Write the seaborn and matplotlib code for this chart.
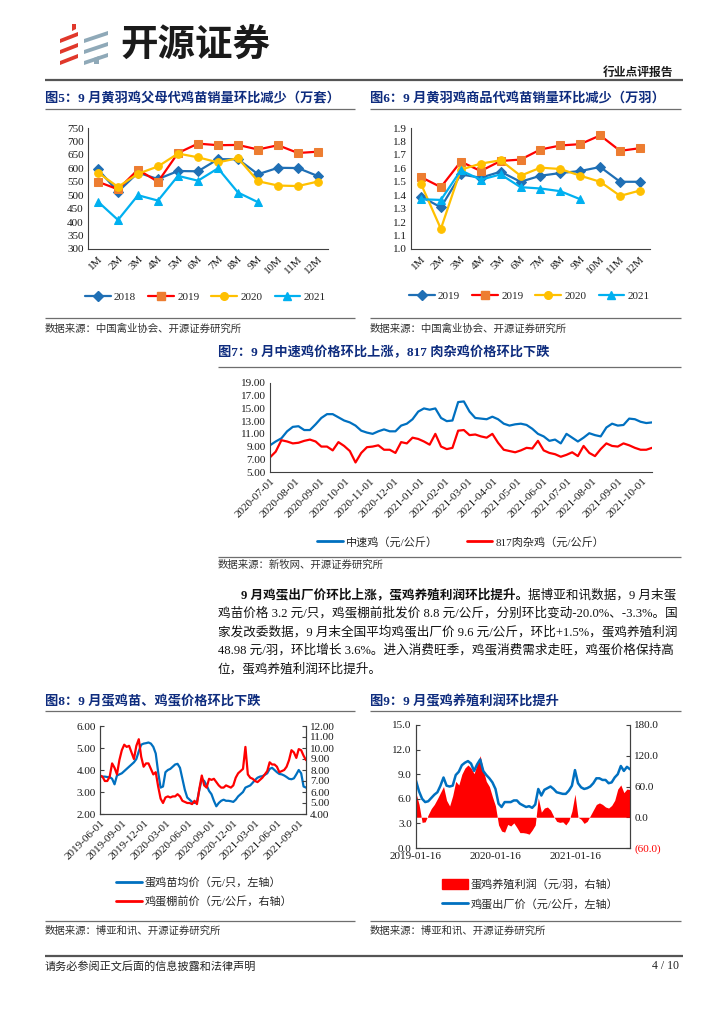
import numpy as np
import pandas as pd
import matplotlib
matplotlib.use("Agg")
import matplotlib.pyplot as plt
import matplotlib.dates as mdates
from matplotlib.lines import Line2D
from matplotlib.patches import Polygon, Patch
import seaborn as sns

# ---------------- data ----------------
months = ["1M", "2M", "3M", "4M", "5M", "6M", "7M", "8M", "9M", "10M", "11M", "12M"]

# 图5 父母代鸡苗销量（万套）
parent_2018 = [596, 513, 584, 560, 590, 589, 634, 634, 578, 602, 601, 571]
parent_2019 = [550, 522, 595, 550, 657, 692, 686, 687, 670, 686, 657, 662]
parent_2020 = [584, 531, 580, 607, 655, 641, 622, 638, 552, 536, 534, 551]
parent_2021 = [476, 408, 500, 480, 572, 554, 600, 510, 474]

# 图6 商品代鸡苗销量（万羽）
comm_a = [1.39, 1.31, 1.555, 1.53, 1.575, 1.50, 1.545, 1.565, 1.58, 1.61, 1.50, 1.50]
comm_2019 = [1.535, 1.46, 1.65, 1.58, 1.655, 1.665, 1.74, 1.77, 1.78, 1.845, 1.73, 1.75]
comm_2020 = [1.485, 1.15, 1.59, 1.635, 1.66, 1.545, 1.605, 1.595, 1.545, 1.50, 1.395, 1.435]
comm_2021 = [1.37, 1.365, 1.585, 1.515, 1.555, 1.46, 1.45, 1.43, 1.37]

# 图7 中速鸡 / 817肉杂鸡（元/公斤），周度
dates7 = pd.date_range("2020-07-01", periods=68, freq="7D")
zhongsu = [9.2, 9.8, 10.3, 11.4, 12.1, 12.2, 11.6, 11.6, 12.5, 13.5,
           14.1, 14.1, 13.6, 13.1, 12.8, 12.3, 11.5, 11.2, 11.0, 11.4,
           11.7, 11.4, 11.4, 12.3, 12.6, 13.3, 14.5, 15.0, 14.8, 15.0,
           13.5, 13.0, 13.1, 16.0, 16.1, 14.5, 13.5, 13.4, 13.3, 13.7,
           13.3, 12.6, 12.3, 12.5, 12.6, 12.4, 11.8, 11.0, 10.6, 9.9,
           10.1, 9.5, 11.0, 10.4, 9.8, 10.4, 11.1, 10.8, 10.6, 12.0,
           12.6, 12.3, 12.4, 13.4, 13.3, 12.9, 12.7, 12.8]
hybrid817 = [7.3, 8.2, 10.0, 9.8, 9.5, 9.6, 9.9, 10.1, 9.8, 9.0,
             9.0, 8.4, 9.7, 9.1, 8.3, 6.5, 8.0, 8.9, 9.0, 9.2,
             8.5, 8.5, 8.0, 9.7, 9.5, 10.4, 10.2, 9.8, 9.3, 11.0,
             9.0, 8.6, 8.8, 11.5, 11.6, 10.8, 10.9, 10.6, 10.4, 11.0,
             9.6, 8.5, 8.3, 8.1, 8.4, 8.8, 8.7, 9.9, 8.4, 8.0,
             7.8, 7.4, 7.7, 8.1, 7.5, 9.1, 8.0, 7.5, 8.6, 9.5,
             9.1, 9.0, 9.5, 9.2, 8.8, 8.5, 8.5, 8.8]

# 图8 蛋鸡苗均价（元/只，左轴）/ 鸡蛋棚前价（元/公斤，右轴）
dates8 = pd.date_range("2019-06-01", periods=86, freq="10D")
chick_price = [3.70, 3.70, 3.70, 3.68, 3.68, 3.60, 3.35, 3.75, 3.80, 3.85,
               3.95, 4.05, 4.15, 4.25, 4.35, 4.50, 4.85, 5.15, 5.20, 5.22,
               5.25, 5.20, 5.05, 4.75, 3.90, 3.20, 3.25, 3.90, 4.00, 4.05,
               4.15, 4.25, 4.28, 4.10, 3.60, 3.10, 2.75, 2.65, 2.55, 2.50,
               2.55, 3.10, 3.60, 3.50, 3.30, 3.05, 2.90, 2.60, 2.35, 2.50,
               2.60, 2.65, 2.60, 2.60, 2.58, 2.55, 2.65, 2.80, 2.90, 3.00,
               3.20, 3.25, 3.30, 3.42, 3.55, 3.65, 3.70, 3.72, 3.78, 3.85,
               4.05, 4.10, 4.00, 3.90, 3.82, 3.80, 3.75, 3.68, 3.60, 3.58,
               3.62, 3.80, 4.00, 3.85, 3.25, 3.20]
egg_farm_price = [7.5, 7.4, 7.0, 7.0, 7.4, 8.6, 8.2, 7.6, 8.9, 9.8,
                  10.3, 10.1, 10.2, 9.6, 9.0, 10.2, 10.8, 9.2, 8.3, 8.6,
                  8.6, 8.1, 7.6, 7.8, 6.5, 5.4, 5.0, 5.5, 5.6, 5.5,
                  5.6, 5.6, 5.8, 5.6, 5.2, 5.1, 5.0, 5.0, 4.9, 5.2,
                  4.9, 6.3, 7.5, 6.6, 6.4, 7.2, 7.1, 7.2, 6.9, 6.6,
                  6.4, 6.4, 6.6, 6.5, 6.4, 6.6, 7.3, 7.7, 7.9, 8.1,
                  10.1, 7.6, 7.3, 7.2, 7.0, 6.9, 7.1, 7.3, 7.6, 7.9,
                  8.7, 8.5, 8.5, 8.3, 7.8, 7.9, 8.0, 8.3, 8.9, 9.8,
                  9.6, 9.1, 9.9, 9.8, 9.3, 8.9]

# 图9 鸡蛋出厂价（元/公斤，左轴）/ 蛋鸡养殖利润（元/羽，右轴）
dates9 = pd.date_range("2019-01-16", periods=71, freq="14D")
egg_factory = [8.2, 6.9, 6.0, 5.6, 5.7, 6.1, 6.5, 6.8, 7.6, 8.6,
               7.6, 7.5, 7.6, 8.9, 9.3, 10.1, 10.4, 10.6, 10.3, 9.4,
               10.2, 10.8, 9.4, 8.9, 8.5, 8.0, 7.2, 5.4, 5.0, 5.6,
               5.6, 5.6, 5.8, 5.8, 5.4, 5.2, 5.0, 5.1, 4.9, 5.3,
               7.2, 6.4, 7.1, 7.3, 7.5, 7.2, 6.8, 6.7, 6.6, 6.6,
               7.0, 7.6, 9.5, 7.9, 7.4, 7.2, 7.3, 7.5, 7.9, 8.5,
               8.5, 8.3, 8.3, 7.9, 8.0, 8.6, 9.0, 10.0, 9.4, 9.9, 9.6]
layer_profit = [47, 25, -10, -9, 5, 17, 25, 36, 48, 60,
                33, 22, 42, 70, 63, 84, 96, 102, 96, 85,
                104, 120, 92, 70, 60, 40, 22, -15, -27, -29,
                -14, -17, -11, -20, -30, -30, -31, -33, -25, -15,
                38, 10, 18, 20, 14, 2, -8, -10, -9, -15,
                -7, 12, 45, 0, -4, -12, -8, 3, 14, 25,
                28, 25, 20, 18, 23, 33, 55, 63, 48, 55, 54]

# ---------------- style ----------------
W, H = 724, 1024
NAVY = "#0E2C7E"
BLUE = "#0070C0"
DARK_BLUE = "#1F6FB5"
RED = "#FF0000"
ORANGE = "#ED7D31"
YELLOW = "#FFC000"
LIGHT_BLUE = "#00B0F0"
SPINE = "#404040"

sns.set_style("white")
plt.rcParams["font.family"] = ["Liberation Serif", "Noto Sans CJK SC"]
plt.rcParams["xtick.labelsize"] = 8
plt.rcParams["ytick.labelsize"] = 8
plt.rcParams["xtick.color"] = SPINE
plt.rcParams["ytick.color"] = SPINE
plt.rcParams["xtick.labelcolor"] = "#1a1a1a"
plt.rcParams["ytick.labelcolor"] = "#1a1a1a"


def rect(l, t, r, b):
    return [l / W, 1 - b / H, (r - l) / W, (b - t) / H]


fig = plt.figure(figsize=(W / 100, H / 100), dpi=100)

# page layer in pixel coordinates
page = fig.add_axes([0, 0, 1, 1])
page.set_xlim(0, W)
page.set_ylim(H, 0)
page.axis("off")


def rule(x0, x1, y, lw=0.9, color="#6e6e6e"):
    page.plot([x0, x1], [y, y], color=color, lw=lw, solid_capstyle="butt")


def title(x, y, s):
    page.text(x, y, s, fontsize=9.5, fontweight="bold", color=NAVY, va="center")


def source(x, y, s):
    page.text(x, y, s, fontsize=7.5, color="#333333", va="center")


# header / logo
for k, yc in enumerate([35, 46, 57]):
    page.add_patch(Polygon([(60, yc + 4), (78, yc - 3), (78, yc + 1), (60, yc + 8)],
                           closed=True, color="#E0382B", lw=0))
    page.add_patch(Polygon([(84, yc + 4), (108, yc - 4), (108, yc), (84, yc + 8)],
                           closed=True, color="#8FA9B8", lw=0))
page.add_patch(Polygon([(72, 24), (76, 24), (76, 29), (72, 31)], closed=True, color="#E0382B", lw=0))
page.add_patch(Polygon([(94, 58), (99, 56), (99, 64), (94, 64)], closed=True, color="#8FA9B8", lw=0))
page.text(120, 44, "开源证券", fontsize=27, fontweight="bold", color="#1a1a1a",
          va="center", ha="left", family="Noto Sans CJK SC")
page.text(673, 73, "行业点评报告", fontsize=8.5, fontweight="bold", color="#1a1a1a",
          va="center", ha="right")
rule(45, 683, 80, lw=1.6, color="#555555")


def style_spines(ax, sides):
    for s in ["left", "right", "top", "bottom"]:
        ax.spines[s].set_visible(s in sides)
        ax.spines[s].set_color(SPINE)
        ax.spines[s].set_linewidth(0.8)


def month_chart(ax, series, ylim, yticks, fmt):
    for vals, lc, mk, mc in series:
        sns.lineplot(x=np.arange(len(vals)), y=vals, ax=ax, color=lc, lw=1.6,
                     marker=mk, markersize=5.5, markerfacecolor=mc,
                     markeredgecolor=mc)
    ax.set_xlim(-0.5, 11.5)
    ax.set_ylim(*ylim)
    ax.set_yticks(yticks)
    ax.set_yticklabels([fmt.format(v) for v in yticks])
    ax.set_xticks(np.arange(12))
    ax.set_xticklabels(months, rotation=45, ha="right", rotation_mode="anchor")
    ax.set_xticks(np.arange(-0.5, 12, 1), minor=True)
    ax.tick_params(axis="x", which="major", length=0, pad=4)
    ax.tick_params(axis="x", which="minor", length=3, direction="in")
    ax.tick_params(axis="y", length=3, direction="in", pad=3)
    ax.set_xlabel("")
    ax.set_ylabel("")
    style_spines(ax, ["left", "bottom"])


def handles_for(series):
    return [Line2D([], [], color=lc, lw=1.6, marker=mk, markersize=5.5,
                   markerfacecolor=mc, markeredgecolor=mc) for _, lc, mk, mc in series]


# ---------- 图5 ----------
title(45, 98, "图5：9 月黄羽鸡父母代鸡苗销量环比减少（万套）")
rule(45, 355, 109)
ax5 = fig.add_axes(rect(88, 128, 328, 249))
s5 = [(parent_2018, DARK_BLUE, "D", DARK_BLUE),
      (parent_2019, RED, "s", ORANGE),
      (parent_2020, YELLOW, "o", YELLOW),
      (parent_2021, LIGHT_BLUE, "^", LIGHT_BLUE)]
month_chart(ax5, s5, (300, 750), np.arange(300, 751, 50), "{:.0f}")
fig.legend(handles_for(s5), ["2018", "2019", "2020", "2021"], loc="center left",
           bbox_to_anchor=(85 / W, 1 - 297 / H), ncol=4, frameon=False, fontsize=8,
           handlelength=2.3, handletextpad=0.3, columnspacing=1.1, borderpad=0,
           borderaxespad=0, numpoints=1)
rule(45, 355, 318)
source(45, 329, "数据来源：中国禽业协会、开源证券研究所")

# ---------- 图6 ----------
title(370, 98, "图6：9 月黄羽鸡商品代鸡苗销量环比减少（万羽）")
rule(370, 681, 109)
ax6 = fig.add_axes(rect(411, 128, 650, 249))
s6 = [(comm_a, DARK_BLUE, "D", DARK_BLUE),
      (comm_2019, RED, "s", ORANGE),
      (comm_2020, YELLOW, "o", YELLOW),
      (comm_2021, LIGHT_BLUE, "^", LIGHT_BLUE)]
month_chart(ax6, s6, (1.0, 1.9), np.round(np.arange(1.0, 1.91, 0.1), 1), "{:.1f}")
fig.legend(handles_for(s6), ["2019", "2019", "2020", "2021"], loc="center left",
           bbox_to_anchor=(409 / W, 1 - 296 / H), ncol=4, frameon=False, fontsize=8,
           handlelength=2.3, handletextpad=0.3, columnspacing=1.1, borderpad=0,
           borderaxespad=0, numpoints=1)
rule(370, 681, 318)
source(370, 329, "数据来源：中国禽业协会、开源证券研究所")

# ---------- 图7 ----------
title(218, 353, "图7：9 月中速鸡价格环比上涨，817 肉杂鸡价格环比下跌")
rule(218, 681, 367)
ax7 = fig.add_axes(rect(270, 383, 652, 472))
sns.lineplot(x=dates7, y=zhongsu, ax=ax7, color=BLUE, lw=1.6)
sns.lineplot(x=dates7, y=hybrid817, ax=ax7, color=RED, lw=1.6)
ax7.set_ylim(5, 19)
ax7.set_yticks(np.arange(5, 19.1, 2))
ax7.yaxis.set_major_formatter(matplotlib.ticker.FormatStrFormatter("%.2f"))
ax7.set_xlim(dates7[0], dates7[-1])
ax7.xaxis.set_major_locator(mdates.MonthLocator())
ax7.xaxis.set_major_formatter(mdates.DateFormatter("%Y-%m-%d"))
plt.setp(ax7.get_xticklabels(), rotation=45, ha="right", rotation_mode="anchor")
ax7.tick_params(axis="both", length=3, direction="in", pad=3)
ax7.set_xlabel("")
ax7.set_ylabel("")
style_spines(ax7, ["left", "bottom"])
fig.legend([Line2D([], [], color=BLUE, lw=2), Line2D([], [], color=RED, lw=2)],
           ["中速鸡（元/公斤）", "817肉杂鸡（元/公斤）"], loc="center left",
           bbox_to_anchor=(317 / W, 1 - 542 / H), ncol=2, frameon=False, fontsize=8,
           handlelength=2.3, handletextpad=0.3, columnspacing=2.6, borderpad=0,
           borderaxespad=0)
rule(218, 681, 557)
source(218, 565, "数据来源：新牧网、开源证券研究所")

# ---------- 正文 ----------
FS_TXT = 9.05
para_lines = [
    "鸡苗价格 3.2 元/只，鸡蛋棚前批发价 8.8 元/公斤，分别环比变动-20.0%、-3.3%。国",
    "家发改委数据，9 月末全国平均鸡蛋出厂价 9.6 元/公斤，环比+1.5%，蛋鸡养殖利润",
    "48.98 元/羽，环比增长 3.6%。进入消费旺季，鸡蛋消费需求走旺，鸡蛋价格保持高",
    "位，蛋鸡养殖利润环比提升。",
]
t_bold = page.text(241, 595, "9 月鸡蛋出厂价环比上涨，蛋鸡养殖利润环比提升。",
                   fontsize=FS_TXT, fontweight="bold", color="#111111", va="center")
page.annotate("据博亚和讯数据，9 月末蛋", xy=(1, 0.5), xycoords=t_bold,
              fontsize=FS_TXT, color="#111111", va="center", ha="left")
for k, line in enumerate(para_lines):
    page.text(218, 613.5 + k * 18.5, line, fontsize=FS_TXT, color="#111111", va="center")

# ---------- 图8 ----------
title(45, 702, "图8：9 月蛋鸡苗、鸡蛋价格环比下跌")
rule(45, 355, 711)
ax8 = fig.add_axes(rect(100, 726, 306, 814))
ax8r = ax8.twinx()
sns.lineplot(x=dates8, y=chick_price, ax=ax8, color=BLUE, lw=1.6)
sns.lineplot(x=dates8, y=egg_farm_price, ax=ax8r, color=RED, lw=1.6)
ax8.set_ylim(2, 6)
ax8.set_yticks(np.arange(2, 6.1, 1))
ax8.yaxis.set_major_formatter(matplotlib.ticker.FormatStrFormatter("%.2f"))
ax8r.set_ylim(4, 12)
ax8r.set_yticks(np.arange(4, 12.1, 1))
ax8r.yaxis.set_major_formatter(matplotlib.ticker.FormatStrFormatter("%.2f"))
ax8.set_xlim(dates8[0], dates8[-1])
ax8.xaxis.set_major_locator(mdates.MonthLocator(bymonth=[3, 6, 9, 12]))
ax8.xaxis.set_major_formatter(mdates.DateFormatter("%Y-%m-%d"))
plt.setp(ax8.get_xticklabels(), rotation=45, ha="right", rotation_mode="anchor")
for a in (ax8, ax8r):
    a.tick_params(axis="both", length=3, direction="in", pad=3)
    a.set_xlabel("")
    a.set_ylabel("")
    style_spines(a, ["left", "right", "bottom"])
fig.legend([Line2D([], [], color=BLUE, lw=2), Line2D([], [], color=RED, lw=2)],
           ["蛋鸡苗均价（元/只，左轴）", "鸡蛋棚前价（元/公斤，右轴）"], loc="upper left",
           bbox_to_anchor=(116 / W, 1 - 877 / H), ncol=1, frameon=False, fontsize=8,
           handlelength=2.3, handletextpad=0.3, labelspacing=0.75, borderpad=0,
           borderaxespad=0)
rule(45, 355, 921)
source(45, 931, "数据来源：博亚和讯、开源证券研究所")

# ---------- 图9 ----------
title(370, 702, "图9：9 月蛋鸡养殖利润环比提升")
rule(370, 681, 711)
ax9 = fig.add_axes(rect(416, 725, 630, 848))
ax9r = ax9.twinx()
ax9r.fill_between(dates9, 0, layer_profit, color=RED, lw=0)
sns.lineplot(x=dates9, y=egg_factory, ax=ax9, color=BLUE, lw=1.8)
ax9.set_zorder(ax9r.get_zorder() + 1)
ax9.patch.set_visible(False)
ax9.set_ylim(0, 15)
ax9.set_yticks(np.arange(0, 15.1, 3))
ax9.yaxis.set_major_formatter(matplotlib.ticker.FormatStrFormatter("%.1f"))
r_ticks = np.arange(-60, 181, 60)
ax9r.set_ylim(-60, 180)
ax9r.set_yticks(r_ticks)
ax9r.set_yticklabels([f"({abs(v):.1f})" if v < 0 else f"{v:.1f}" for v in r_ticks])
for lab, v in zip(ax9r.get_yticklabels(), r_ticks):
    if v < 0:
        lab.set_color(RED)
ax9.set_xlim(dates9[0], dates9[-1])
ax9.set_xticks(pd.to_datetime(["2019-01-16", "2020-01-16", "2021-01-16"]))
ax9.xaxis.set_major_formatter(mdates.DateFormatter("%Y-%m-%d"))
for a in (ax9, ax9r):
    a.tick_params(axis="both", length=3, direction="in", pad=3)
    a.set_xlabel("")
    a.set_ylabel("")
    style_spines(a, ["left", "right", "bottom"])
fig.legend([Patch(color=RED), Line2D([], [], color=BLUE, lw=2)],
           ["蛋鸡养殖利润（元/羽，右轴）", "鸡蛋出厂价（元/公斤，左轴）"], loc="upper left",
           bbox_to_anchor=(442 / W, 1 - 879 / H), ncol=1, frameon=False, fontsize=8,
           handlelength=2.3, handleheight=0.9, handletextpad=0.3, labelspacing=0.75,
           borderpad=0, borderaxespad=0)
rule(370, 681, 921)
source(370, 931, "数据来源：博亚和讯、开源证券研究所")

# footer
rule(45, 683, 956, lw=1.6, color="#555555")
page.text(45, 966, "请务必参阅正文后面的信息披露和法律声明", fontsize=8, color="#222222", va="center")
page.text(679, 966, "4 / 10", fontsize=8.5, color="#222222", va="center", ha="right")

fig.savefig("out.png", dpi=100)
